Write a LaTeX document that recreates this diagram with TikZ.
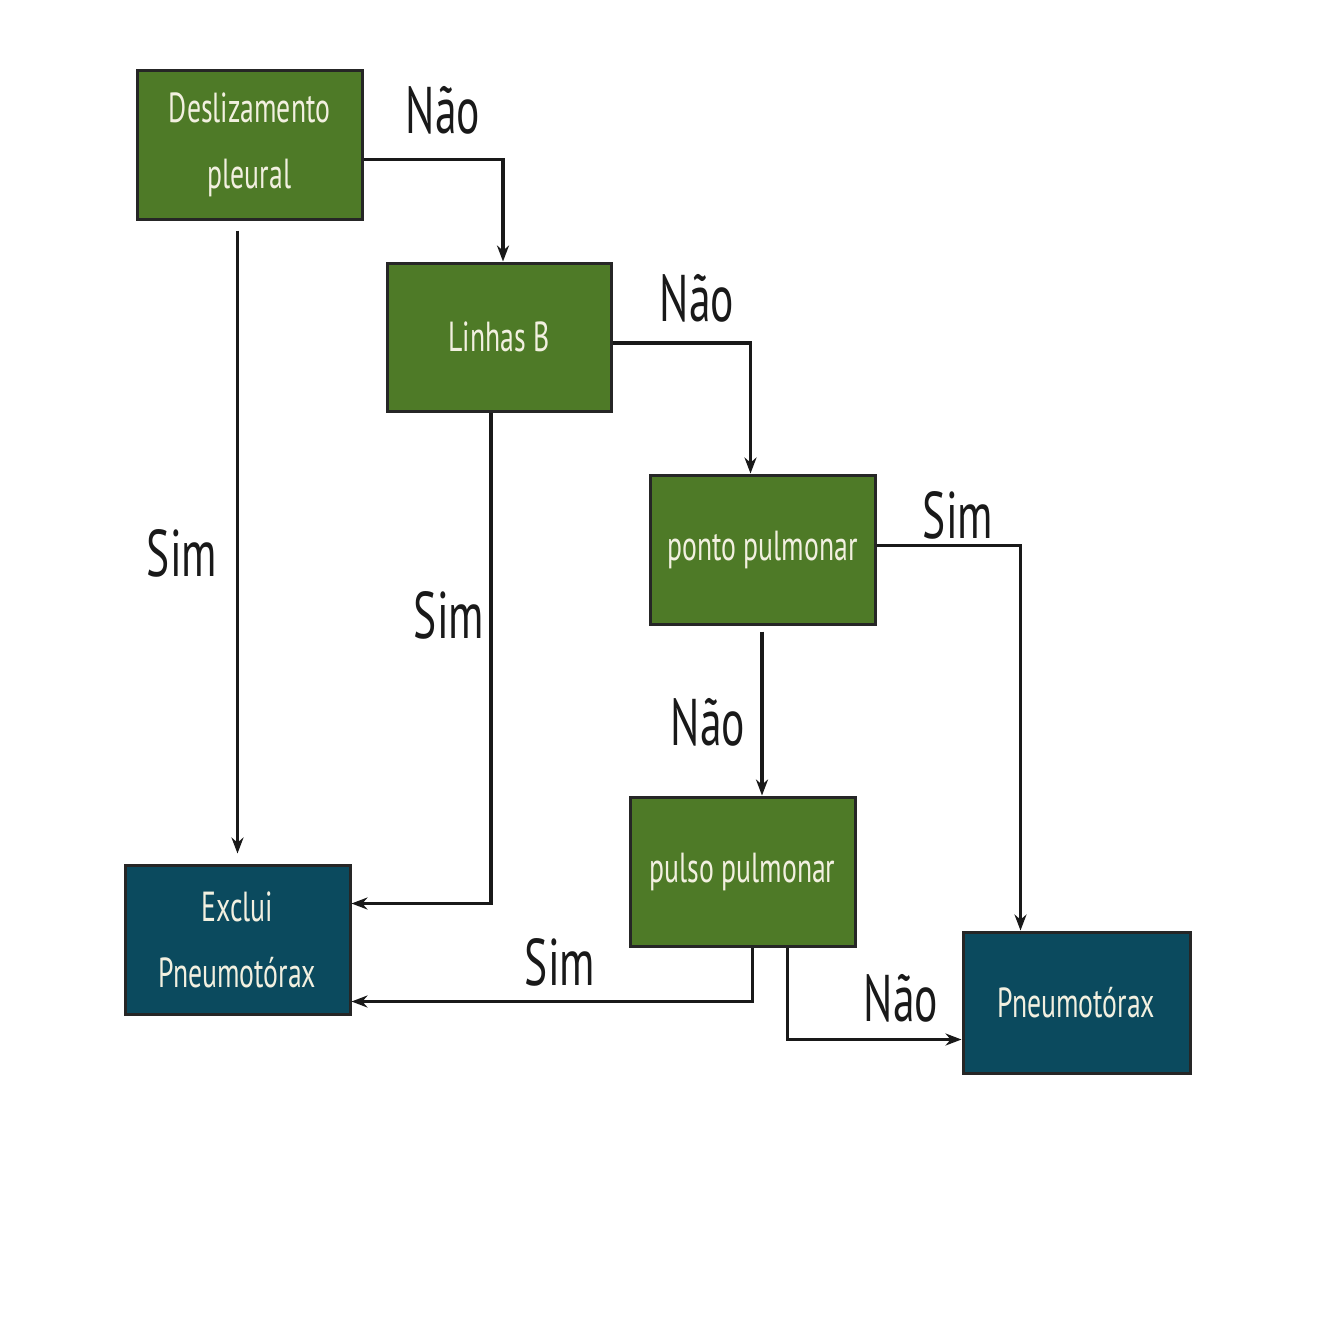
\documentclass[tikz,border=0pt]{standalone}
\usepackage{fontspec}
\setmainfont{PT Sans}
\usetikzlibrary{arrows.meta}
\definecolor{boxgreen}{HTML}{4E7A27}
\definecolor{boxteal}{HTML}{0B4A5E}
\definecolor{boxtext}{HTML}{F2F0E0}
\newcommand{\narrow}[1]{\scalebox{0.66}[1]{#1}}
\tikzset{
  flowbox/.style={draw=black!85, line width=3pt, minimum width=225pt, minimum height=149pt,
    text=boxtext, align=center, font=\fontsize{42}{62}\selectfont, inner sep=0pt},
  greenbox/.style={flowbox, fill=boxgreen},
  tealbox/.style={flowbox, fill=boxteal},
  conn/.style={line width=3.5pt, black!90, -{Stealth[length=16pt,width=12pt]}},
  lab/.style={font=\fontsize{66}{70}\selectfont, text=black!90, inner sep=0pt}
}
\begin{document}
\begin{tikzpicture}[x=1pt,y=-1pt]
\useasboundingbox[fill=white] (0,0) rectangle (1334,1334);
\node[greenbox] (d) at (249.5,144.5) {\narrow{Deslizamento}\\[4pt]\narrow{pleural}};
\node[greenbox, minimum width=224pt, minimum height=148pt] (l) at (499,337) {\narrow{Linhas B}};
\node[greenbox] (pp) at (762.5,549.5) {\narrow{ponto pulmonar}};
\node[greenbox] (pu) at (742.5,871.5) {\narrow{pulso pulmonar}};
\node[tealbox] (ex) at (237.5,939.5) {\narrow{Exclui}\\[4pt]\narrow{Pneumotórax}};
\node[tealbox, minimum width=227pt, minimum height=141pt] (pn) at (1076.5,1002.5) {\narrow{Pneumotórax}};

\draw[conn] ([yshift=-15pt]d.east) -| ([xshift=4pt]l.north);
\draw[conn, shorten <=10pt, shorten >=10pt] (d.south -| ex.north) -- (ex.north);
\draw[conn] ([yshift=-6pt]l.east) -| ([xshift=-12pt]pp.north);
\draw[conn] ([xshift=-8pt]l.south) |- ([yshift=36pt]ex.east);
\draw[conn] ([yshift=4pt]pp.east) -| ([xshift=-56pt]pn.north);
\draw[conn, shorten <=6pt] (pp.south -| {(762,0)}) -- ({(762,0)} |- pu.north);
\draw[conn] ([xshift=10pt]pu.south) |- ([yshift=-62pt]ex.east);
\draw[conn] ([xshift=45pt]pu.south) |- ([yshift=-37pt]pn.west);

\node[lab] (n1) at (443,110) {\narrow{Não}};
\node[lab] (n2) at (697,298) {\narrow{Não}};
\node[lab] (n3) at (708,722) {\narrow{Não}};
\node[lab] (n4) at (901,998) {\narrow{Não}};
\node[lab] (s1) at (182,553) {\narrow{Sim}};
\node[lab] (s2) at (449,615) {\narrow{Sim}};
\node[lab] (s3) at (958,515) {\narrow{Sim}};
\node[lab] (s4) at (560,962) {\narrow{Sim}};
\end{tikzpicture}
\end{document}
